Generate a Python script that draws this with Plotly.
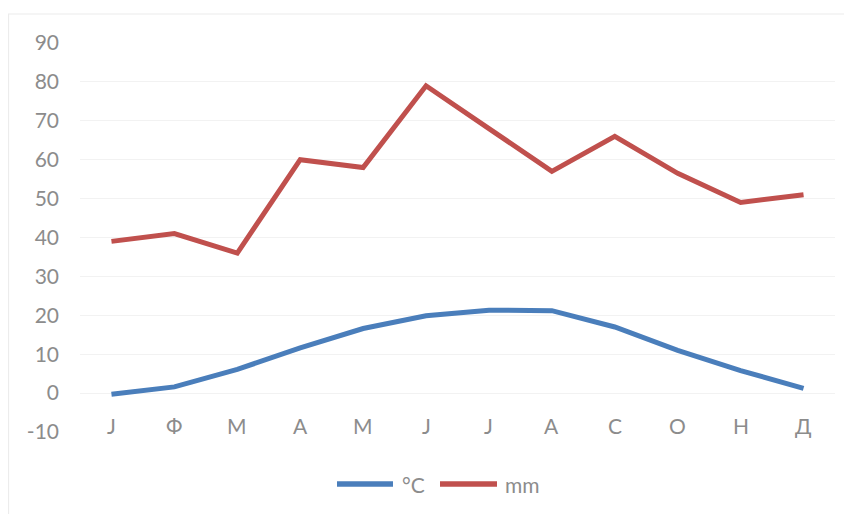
import plotly.graph_objects as go

months = ["J", "Ф", "M", "A", "M", "J", "J", "A", "C", "O", "H", "Д"]
temp_c = [-0.3, 1.6, 6.1, 11.6, 16.6, 19.9, 21.3, 21.2, 17.0, 11.0, 5.8, 1.2]
precip_mm = [39, 41, 36, 60, 58, 79, 68, 57, 66, 56.5, 49, 51]
y_ticks = [-10, 0, 10, 20, 30, 40, 50, 60, 70, 80, 90]
y_tick_labels = ["-10", "0", "10", "20", "30", "40", "50", "60", "70", "80", "90"]
series_names = ["°C", "mm"]
series_colors = ["#4a7ebb", "#c0504d"]

idx = list(range(len(months)))
font_color = "#8c8c8c"
font_family = "Lato, 'Open Sans', sans-serif"
fsize = 21

PLOT_W = 755.0

fig = go.Figure()
for name, vals, col in zip(series_names, [temp_c, precip_mm], series_colors):
    fig.add_trace(go.Scatter(x=idx, y=vals, mode="lines", name=name,
                             line=dict(color=col, width=5), showlegend=False))

# category labels drawn just below the 0 line (as in the original chart)
for i, m in zip(idx, months):
    fig.add_annotation(x=i, y=-8.2, xref="x", yref="y", text=m, showarrow=False,
                       font=dict(size=fsize, color=font_color, family=font_family))

# custom legend with long line keys (positions in plot-area pixels -> paper)
def px(v):
    return (v - 80) / PLOT_W

legend_keys = [(px(337), px(393), px(400)), (px(440), px(497), px(503))]
ly = -0.1337
for (x0, x1, xt), name, col in zip(legend_keys, series_names, series_colors):
    fig.add_shape(type="line", xref="paper", yref="paper", x0=x0, x1=x1, y0=ly, y1=ly,
                  line=dict(color=col, width=5.5))
    fig.add_annotation(x=xt, y=ly, xref="paper", yref="paper", text=name,
                       showarrow=False, xanchor="left", yanchor="middle",
                       font=dict(size=fsize, color=font_color, family=font_family))

# faint chart-area border
fig.add_shape(type="rect", xref="paper", yref="paper",
              x0=px(8.5), x1=1.07, y0=-0.35, y1=(432 - 14) / 389,
              line=dict(color="#ececec", width=1.2), fillcolor="rgba(0,0,0,0)",
              layer="below")

fig.update_layout(
    width=844, height=506,
    margin=dict(l=72, r=17, t=35, b=82),
    paper_bgcolor="white", plot_bgcolor="white",
    font=dict(family=font_family, color=font_color, size=fsize),
    xaxis=dict(range=[-0.5, len(months) - 0.5], showticklabels=False,
               showgrid=False, zeroline=False, showline=False, fixedrange=True),
    yaxis=dict(range=[-10, 90], tickvals=y_ticks, ticktext=y_tick_labels,
               showgrid=True, gridcolor="#f2f2f2", gridwidth=1.2,
               zeroline=False, showline=False,
               tickfont=dict(size=fsize, color=font_color), ticklabelstandoff=20),
    showlegend=False,
)

fig.write_html("out.html")
